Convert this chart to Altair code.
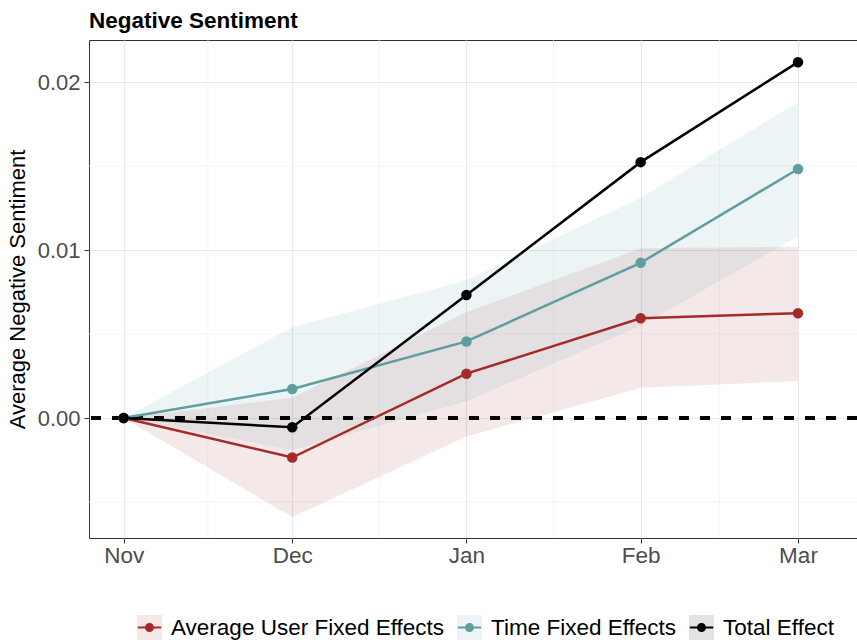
import altair as alt
import pandas as pd

# Monthly estimates of the average negative sentiment change relative to November
months = ["2020-11-01", "2020-12-01", "2021-01-01", "2021-02-01", "2021-03-01"]
series_names = ["Average User Fixed Effects", "Time Fixed Effects", "Total Effect"]

user_fe_est = [0.0, -0.00235, 0.00264, 0.00594, 0.00624]
user_fe_lo = [0.0, -0.0059, -0.0011, 0.0018, 0.0022]
user_fe_hi = [0.0, 0.0012, 0.0063, 0.0101, 0.0102]

time_fe_est = [0.0, 0.00173, 0.00456, 0.00924, 0.01482]
time_fe_lo = [0.0, -0.0019, 0.0010, 0.0055, 0.0108]
time_fe_hi = [0.0, 0.0054, 0.0082, 0.0131, 0.0188]

total_est = [0.0, -0.00055, 0.00732, 0.01523, 0.02118]

series_colors = ["#a52a2a", "#5f9ea0", "#000000"]
y_major = [0.0, 0.01, 0.02]
y_minor = [-0.005, 0.005, 0.015]

rows = []
for m, e, lo, hi in zip(months, user_fe_est, user_fe_lo, user_fe_hi):
    rows.append({"month": m, "series": series_names[0], "est": e, "lo": lo, "hi": hi})
for m, e, lo, hi in zip(months, time_fe_est, time_fe_lo, time_fe_hi):
    rows.append({"month": m, "series": series_names[1], "est": e, "lo": lo, "hi": hi})
for m, e in zip(months, total_est):
    rows.append({"month": m, "series": series_names[2], "est": e})
df = pd.DataFrame(rows)
band_df = df[df["series"] != series_names[2]]

# minor grid positions halfway between the monthly ticks
mdates = pd.to_datetime(months)
minor_x = [(mdates[i] + (mdates[i + 1] - mdates[i]) / 2).strftime("%Y-%m-%dT%H:%M:%S")
           for i in range(len(mdates) - 1)]
minor_x_df = pd.DataFrame({"month": minor_x})
minor_y_df = pd.DataFrame({"v": y_minor})

FONT = "Liberation Sans"
KEY_SIZE = 625  # 25 px legend keys
LEGEND_X, LEGEND_Y = 48, 575

x_scale = alt.Scale(domain=[alt.DateTime(year=2020, month=10, date=25, hours=20),
                            alt.DateTime(year=2021, month=3, date=11, hours=12)])
y_scale = alt.Scale(domain=[-0.00714, 0.0225], nice=False, zero=False)

x_axis = alt.Axis(
    values=[alt.DateTime(year=2020, month=11, date=1), alt.DateTime(year=2020, month=12, date=1),
            alt.DateTime(year=2021, month=1, date=1), alt.DateTime(year=2021, month=2, date=1),
            alt.DateTime(year=2021, month=3, date=1)],
    format="%b", title=None, labelFontSize=22.5, labelColor="#4d4d4d", labelFont=FONT,
    tickSize=5, tickColor="#333333", domain=False, grid=True, gridColor="#e8e8e8",
    gridWidth=1.1, labelPadding=1,
)
y_axis = alt.Axis(
    values=y_major, format=".2f", title="Average Negative Sentiment", titleFontSize=22,
    titleFont=FONT, titleFontWeight="normal", titleColor="#000000", titlePadding=8,
    labelFontSize=22, labelColor="#4d4d4d", labelFont=FONT, tickSize=5,
    tickColor="#333333", domain=False, grid=True, gridColor="#e8e8e8", gridWidth=1.1,
    labelPadding=4,
)

base_x = alt.X("month:T", scale=x_scale, axis=x_axis)
base_y = alt.Y("est:Q", scale=y_scale, axis=y_axis)

minor_vx = alt.Chart(minor_x_df).mark_rule(color="#f0f0f0", strokeWidth=0.7).encode(
    x=alt.X("month:T", scale=x_scale, axis=x_axis)
)
minor_hy = alt.Chart(minor_y_df).mark_rule(color="#f0f0f0", strokeWidth=0.7).encode(
    y=alt.Y("v:Q", scale=y_scale, axis=y_axis)
)

# confidence ribbons; their fill legend supplies the tinted key backgrounds
bands = alt.Chart(band_df).mark_area(opacity=0.11).encode(
    x=base_x,
    y=alt.Y("lo:Q", scale=y_scale, axis=y_axis),
    y2="hi:Q",
    fill=alt.Fill(
        "series:N",
        scale=alt.Scale(domain=series_names, range=series_colors),
        legend=alt.Legend(
            orient="none", legendX=LEGEND_X, legendY=LEGEND_Y, direction="horizontal",
            title=None, symbolType="square", symbolSize=KEY_SIZE, symbolOpacity=0.11,
            symbolStrokeWidth=0, labelOpacity=0, labelFontSize=22.5, labelFont=FONT,
            labelOffset=9, columnPadding=12, labelLimit=400, zindex=0,
        ),
    ),
)

zero_line = alt.Chart(df).mark_rule(color="#000000", strokeWidth=2.5, strokeDash=[10, 11]).encode(
    y=alt.datum(0)
)

color = alt.Color(
    "series:N",
    scale=alt.Scale(domain=series_names, range=series_colors),
    sort=series_names,
    legend=alt.Legend(
        orient="none", legendX=LEGEND_X, legendY=LEGEND_Y, direction="horizontal",
        title=None,
        symbolType="M-0.94,-0.08H0.94V0.08H-0.94Z M0.36,0A0.36,0.36 0 1,1 -0.36,0A0.36,0.36 0 1,1 0.36,0Z",
        symbolSize=KEY_SIZE, symbolStrokeWidth=0, labelFontSize=22.5, labelFont=FONT,
        labelColor="#000000", labelOffset=9, columnPadding=12, labelLimit=400, zindex=1,
    ),
)

lines = alt.Chart(df).mark_line(strokeWidth=2.5).encode(x=base_x, y=base_y, color=color)
points = alt.Chart(df).mark_point(filled=True, size=110, opacity=1).encode(
    x=base_x, y=base_y, color=color
)

chart = alt.layer(minor_vx, minor_hy, bands, zero_line, lines, points).resolve_scale(
    fill="independent"
).properties(
    width=768,
    height=498,
    title=alt.TitleParams("Negative Sentiment", anchor="start", frame="group", fontSize=22.5,
                          font=FONT, fontWeight="bold", color="#000000", offset=7),
    autosize=alt.AutoSizeParams(type="none"),
    padding={"left": 89, "top": 40, "right": 0, "bottom": 104},
).configure_view(
    stroke="#333333", strokeWidth=1
)

chart.save("out.html", embed_options={"renderer": "svg", "actions": False})
